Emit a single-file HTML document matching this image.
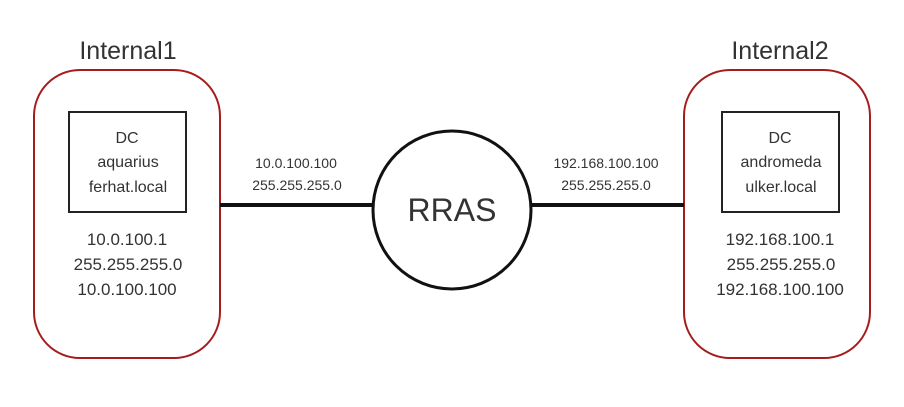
<!DOCTYPE html>
<html><head><style>body{margin:0;background:#fff}</style></head><body>
<svg width="904" height="402" xmlns="http://www.w3.org/2000/svg" font-family="Liberation Sans, Arial, sans-serif" fill="#333">
<rect width="904" height="402" fill="#fff"/>
<rect x="34" y="70" width="186" height="288" rx="46" fill="none" stroke="#a51c1c" stroke-width="2"/>
<rect x="684" y="70" width="186" height="288" rx="46" fill="none" stroke="#a51c1c" stroke-width="2"/>
<rect x="69" y="112" width="117" height="100" fill="none" stroke="#222" stroke-width="2"/>
<rect x="722" y="112" width="117" height="100" fill="none" stroke="#222" stroke-width="2"/>
<line x1="220" y1="205" x2="373" y2="205" stroke="#111" stroke-width="4"/>
<line x1="531" y1="205" x2="684" y2="205" stroke="#111" stroke-width="4"/>
<circle cx="452" cy="210" r="79" fill="#fff" stroke="#111" stroke-width="3"/>
<g text-anchor="middle">
<text x="128" y="59" font-size="25">Internal1</text>
<text x="780" y="59" font-size="25">Internal2</text>
<text x="452" y="221" font-size="32">RRAS</text>
<g font-size="16">
<text x="127" y="143">DC</text><text x="128" y="167">aquarius</text><text x="128" y="192">ferhat.local</text>
<text x="780" y="143">DC</text><text x="781" y="167">andromeda</text><text x="781" y="192">ulker.local</text>
</g>
<g font-size="17">
<text x="127" y="245">10.0.100.1</text><text x="128" y="270">255.255.255.0</text><text x="127" y="295">10.0.100.100</text>
<text x="780" y="245">192.168.100.1</text><text x="781" y="270">255.255.255.0</text><text x="780" y="295">192.168.100.100</text>
</g>
<g font-size="14">
<text x="296" y="168">10.0.100.100</text><text x="297" y="190">255.255.255.0</text>
<text x="606" y="168">192.168.100.100</text><text x="606" y="190">255.255.255.0</text>
</g>
</g>
</svg>
</body></html>
